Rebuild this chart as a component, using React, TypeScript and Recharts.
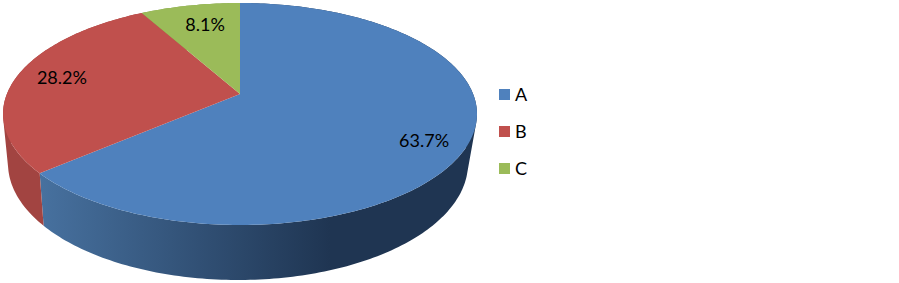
import { Legend, Pie, PieChart } from "recharts";

const categories = ["A", "B", "C"];
const shares = [63.7, 28.2, 8.1];
const topColors = ["#4F81BD", "#C0504D", "#9BBB59"];
const sideColors = ["url(#sideBlue)", "#A24441", "#82A04A"];

const slices = categories.map((name, i) => ({ name, value: shares[i], fill: topColors[i] }));
const sideSlices = categories.map((name, i) => ({ name, value: shares[i], fill: sideColors[i] }));

// excel style tilted pie: circle -> ellipse with the apex pushed towards the back
const TILT = -0.18;
const TOP = { rx: 237, ry: 111, cy: 114, dx: 0 };
const BOTTOM = { rx: 230, ry: 116.5, cy: 163.5, dx: -2 };

type Pt = { x: number; y: number };

const project = (cx: number, face: typeof TOP, deg: number, frac = 1) => {
  // deg is the recharts angle (counter clockwise from 3 o'clock)
  const rad = (deg * Math.PI) / 180;
  const u = Math.cos(rad) * frac;
  const v = -Math.sin(rad) * frac;
  const w = 1 + TILT * v;
  return {
    x: cx + face.dx + (face.rx * u * Math.sqrt(1 - TILT * TILT)) / w,
    y: face.cy + (face.ry * (v + TILT)) / w,
  };
};

const arcPoints = (cx: number, face: typeof TOP, from: number, to: number) => {
  const steps = Math.max(2, Math.ceil(Math.abs(to - from)));
  const pts: Pt[] = [];
  for (let i = 0; i <= steps; i++) pts.push(project(cx, face, from + ((to - from) * i) / steps));
  return pts;
};

const toPath = (pts: Pt[]) =>
  pts.map((p, i) => `${i ? "L" : "M"}${p.x.toFixed(2)} ${p.y.toFixed(2)}`).join(" ") + " Z";

const area = (pts: Pt[]) =>
  pts.reduce((sum, p, i) => {
    const q = pts[(i + 1) % pts.length];
    return sum + p.x * q.y - q.x * p.y;
  }, 0);

const TopFace = (props: any) => {
  const { cx, startAngle, endAngle, fill } = props;
  const apex = project(cx, TOP, 0, 0);
  return <path d={toPath([apex, ...arcPoints(cx, TOP, startAngle, endAngle)])} fill={fill} />;
};

// side wall as one path of small quads, all wound the same way so nothing cancels out
const SideFace = (props: any) => {
  const { cx, startAngle, endAngle, fill } = props;
  const upper = arcPoints(cx, TOP, startAngle, endAngle);
  const lower = arcPoints(cx, BOTTOM, startAngle, endAngle);
  const quads = upper.slice(1).map((p, i) => {
    const quad = [upper[i], p, lower[i + 1], lower[i]];
    return toPath(area(quad) < 0 ? quad.reverse() : quad);
  });
  return <path d={quads.join(" ")} fill={fill} />;
};

const labelFrac = [0.82, 0.8, 0.75];
const labelDx = [-1, 1, 4];
const labelDy = [7, -2, -1];

const renderLabel = (props: any) => {
  const { cx, midAngle, value, index } = props;
  const p = project(cx, TOP, midAngle, labelFrac[index]);
  return (
    <text
      x={p.x + labelDx[index]}
      y={p.y + labelDy[index]}
      textAnchor="middle"
      dominantBaseline="central"
      fill="#000"
      fontSize={18}
      fontFamily="Lato"
    >
      {value.toFixed(1)}%
    </text>
  );
};

const LegendList = ({ payload }: any) => (
  <div style={{ fontFamily: "Lato", fontSize: 18, color: "#000" }}>
    {payload
      .filter((item: any) => topColors.includes(item.color))
      .map((item: any) => (
        <div key={item.value} style={{ display: "flex", alignItems: "center", height: 37 }}>
          <span style={{ width: 11, height: 11, background: item.color, marginRight: 5 }} />
          <span style={{ position: "relative", top: -1 }}>{item.value}</span>
        </div>
      ))}
  </div>
);

export default function App() {
  return (
    <div style={{ position: "absolute", left: 0, top: 0 }}>
      <PieChart width={899} height={283} margin={{ top: 0, right: 0, bottom: 0, left: 0 }}>
        <defs>
          <linearGradient id="sideBlue" gradientUnits="userSpaceOnUse" x1={40} y1={0} x2={330} y2={0}>
            <stop offset="0%" stopColor="#47719F" />
            <stop offset="100%" stopColor="#1F3552" />
          </linearGradient>
        </defs>
        <Pie
          data={sideSlices}
          dataKey="value"
          nameKey="name"
          cx={240}
          cy={114}
          outerRadius={237}
          startAngle={90}
          endAngle={-270}
          stroke="none"
          legendType="none"
          shape={SideFace}
          isAnimationActive={false}
        />
        <Pie
          data={slices}
          dataKey="value"
          nameKey="name"
          cx={240}
          cy={114}
          outerRadius={237}
          startAngle={90}
          endAngle={-270}
          stroke="none"
          shape={TopFace}
          label={renderLabel}
          labelLine={false}
          isAnimationActive={false}
        />
        <Legend
          layout="vertical"
          content={LegendList}
          wrapperStyle={{ left: 499, top: 76, width: 60 }}
        />
      </PieChart>
    </div>
  );
}
